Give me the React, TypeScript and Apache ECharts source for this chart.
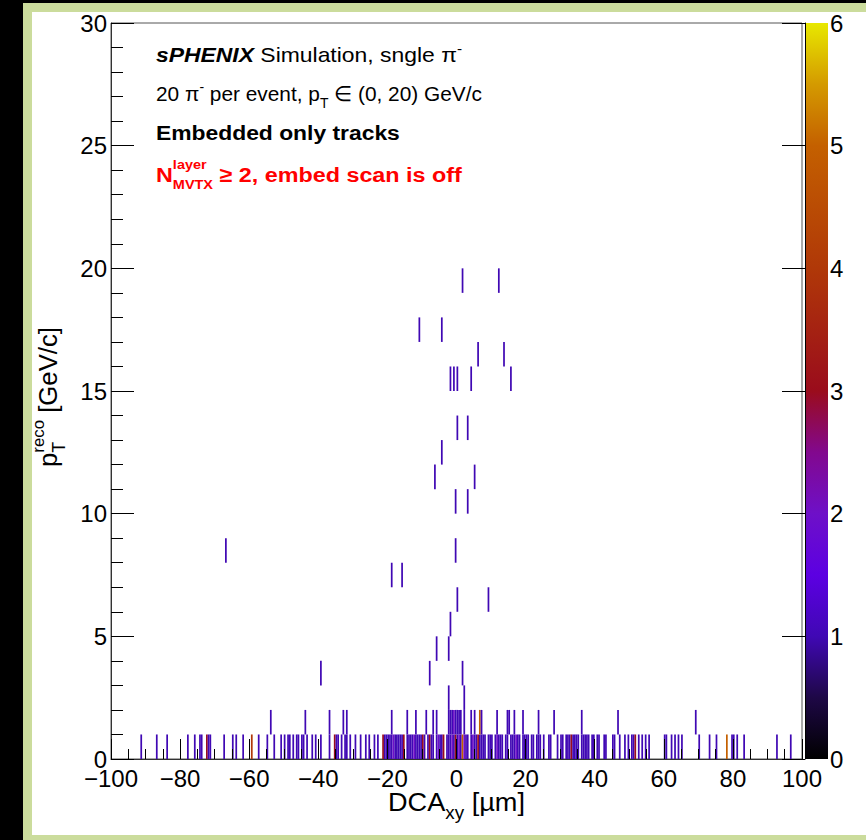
import React, { useEffect, useRef } from "react";
import * as echarts from "echarts";

// ---------- axes ----------
const X_MIN = -100;
const X_MAX = 100;
const Y_MIN = 0;
const Y_MAX = 30;
const Z_MIN = 0;
const Z_MAX = 6;
const BIN_W = 0.5; // DCA bin width [um]
const BIN_H = 1; // pT bin width [GeV/c]

// ---------- data: [DCA_xy (um), counts] ----------
const pt0to1: [number, number][] = [
  [-91.5, 1], [-86.7, 1], [-83.7, 1], [-78.0, 1], [-76.0, 1], [-74.2, 1], [-73.7, 1], [-72.3, 3],
  [-71.9, 1], [-71.3, 1], [-67.1, 1], [-65.0, 1], [-63.9, 1], [-62.0, 1], [-59.1, 4], [-57.5, 1],
  [-54.6, 1], [-52.6, 1], [-50.6, 1], [-49.7, 1], [-48.7, 1], [-48.1, 1], [-47.1, 1], [-46.3, 1],
  [-45.7, 1], [-44.9, 1], [-44.4, 1], [-43.3, 1], [-41.7, 1], [-40.6, 1], [-39.1, 1], [-37.0, 1],
  [-35.5, 3], [-34.8, 1], [-34.1, 1], [-33.1, 1], [-32.2, 1], [-31.6, 1], [-30.6, 1], [-29.3, 1],
  [-28.0, 1], [-26.4, 1], [-25.4, 1], [-23.9, 1], [-22.9, 1], [-21.5, 3],
  [-20.75, 1], [-20.25, 1], [-19.75, 1], [-19.25, 1], [-18.75, 1], [-18.25, 2], [-17.75, 1],
  [-17.25, 1], [-16.75, 1], [-16.25, 1], [-15.75, 1], [-15.25, 3], [-14.25, 1], [-13.75, 1],
  [-13.25, 1], [-12.75, 1], [-12.25, 2], [-11.75, 1], [-11.25, 1], [-10.75, 1], [-10.25, 1],
  [-9.75, 3], [-9.25, 1], [-8.25, 1], [-7.75, 3], [-7.25, 1], [-6.75, 1], [-5.75, 1], [-5.25, 2],
  [-4.75, 1], [-4.25, 1], [-3.75, 3], [-2.75, 1], [-2.25, 1], [-1.75, 1], [-1.25, 2], [-0.75, 1],
  [-0.25, 3], [0.25, 1], [0.75, 2], [1.25, 1], [1.75, 5], [2.25, 2], [2.75, 1], [3.25, 1],
  [4.25, 1], [4.75, 2], [5.25, 1], [5.75, 1], [6.25, 3], [6.75, 1], [7.25, 1], [7.75, 1],
  [8.25, 1], [9.25, 1], [9.75, 1], [10.25, 1], [11.25, 1], [11.75, 2], [12.25, 1], [12.75, 1],
  [13.25, 1], [14.25, 1], [14.75, 1], [15.75, 1], [16.25, 1], [16.75, 1], [17.25, 2], [17.75, 1],
  [18.25, 1], [19.25, 1], [19.75, 1], [20.25, 1], [20.75, 1], [21.75, 1], [22.25, 1], [23.25, 1],
  [23.75, 1], [24.25, 1], [25.25, 1], [26.75, 1], [27.25, 1], [29.25, 1], [30.25, 1], [30.75, 1],
  [31.75, 1], [32.25, 1], [32.75, 1], [33.25, 3], [33.75, 1],
  [34.2, 1], [34.7, 1], [35.4, 1], [36.1, 1], [36.6, 1], [37.1, 1], [37.6, 1], [38.1, 1],
  [39.0, 1], [39.5, 1], [40.5, 1], [41.0, 1], [42.7, 1], [43.4, 1], [45.3, 1], [45.8, 1],
  [47.2, 1], [48.7, 1], [49.6, 1], [50.6, 1], [51.3, 1], [51.8, 3], [52.5, 1], [53.5, 1],
  [54.6, 1], [55.9, 1], [60.0, 1], [60.7, 1], [62.0, 1], [63.3, 1], [64.1, 1], [65.1, 1],
  [70.1, 1], [73.3, 1], [75.4, 1], [78.4, 5], [79.7, 1], [80.3, 1], [81.3, 1], [83.4, 1],
  [92.8, 1], [96.9, 1],
];

const pt1to2: [number, number][] = [
  [-53.7, 1], [-43.9, 1], [-36.7, 1], [-32.6, 1], [-31.7, 1], [-18.9, 1], [-14.5, 1], [-11.9, 1],
  [-8.7, 1], [-6.8, 1], [-6.0, 1], [-2.25, 1], [-1.75, 1], [-1.25, 1], [-0.75, 2], [-0.25, 1],
  [0.25, 1], [0.75, 1], [1.25, 1], [2.0, 1], [4.1, 1], [5.0, 1], [6.7, 5], [7.4, 1], [11.5, 1],
  [14.7, 1], [15.4, 1], [16.8, 1], [19.2, 1], [23.6, 1], [28.2, 1], [36.4, 1], [46.9, 1], [69.2, 1],
];

// [DCA_xy (um), pT bin low edge (GeV/c), counts]
const ptAbove2: [number, number, number][] = [
  [-2.3, 2, 1], [2.2, 2, 1],
  [-39.3, 3, 1], [-7.7, 3, 1], [1.8, 3, 1],
  [-5.9, 4, 1], [-2.5, 4, 1],
  [-1.9, 5, 1],
  [0.0, 6, 1], [9.0, 6, 1],
  [-18.7, 7, 1], [-15.9, 7, 1],
  [-67.0, 8, 1], [-0.2, 8, 1],
  [-0.2, 10, 1], [3.1, 10, 1],
  [-6.5, 11, 1], [5.4, 11, 1],
  [-4.5, 12, 1],
  [0.1, 13, 1], [3.4, 13, 1],
  [-1.6, 15, 1], [-0.6, 15, 1], [0.2, 15, 1], [4.1, 15, 1], [15.5, 15, 1],
  [6.1, 16, 1], [13.5, 16, 1],
  [-10.6, 17, 1], [-4.3, 17, 1],
  [1.8, 19, 1], [12.4, 19, 1],
];

// colour palette (z value -> colour)
const paletteStops: [number, string][] = [
  [0, "#000000"],
  [0.5, "#1e0846"],
  [1, "#4008b4"],
  [1.5, "#5c00e2"],
  [2, "#6e10c8"],
  [2.5, "#82088e"],
  [3, "#9a0c1c"],
  [4, "#b03808"],
  [5, "#c46000"],
  [5.5, "#d49a00"],
  [6, "#e8e800"],
];

const FONT = '"Liberation Sans", Arial, Helvetica, sans-serif';

function hexToRgb(h: string) {
  const n = parseInt(h.slice(1), 16);
  return [(n >> 16) & 255, (n >> 8) & 255, n & 255];
}
function zColor(z: number) {
  const v = Math.max(Z_MIN, Math.min(Z_MAX, z));
  for (let i = 1; i < paletteStops.length; i++) {
    const [v1, c1] = paletteStops[i];
    const [v0, c0] = paletteStops[i - 1];
    if (v <= v1) {
      const t = (v - v0) / (v1 - v0);
      const a = hexToRgb(c0);
      const b = hexToRgb(c1);
      const r = a.map((x, k) => Math.round(x + (b[k] - x) * t));
      return `rgb(${r[0]},${r[1]},${r[2]})`;
    }
  }
  return paletteStops[paletteStops.length - 1][1];
}

let measureCtx: CanvasRenderingContext2D | null = null;
function textWidth(t: string, size: number, weight = "normal", style = "normal") {
  if (!measureCtx) measureCtx = document.createElement("canvas").getContext("2d");
  measureCtx!.font = `${style} ${weight} ${size}px ${FONT}`;
  return measureCtx!.measureText(t).width;
}

type Seg = { t: string; size: number; weight?: string; style?: string; dy?: number; color?: string };
type Piece = Seg | { stack: Seg[] };

function lineWidth(pieces: Piece[]) {
  let w = 0;
  for (const p of pieces) {
    if ("stack" in p) w += Math.max(...p.stack.map((s) => textWidth(s.t, s.size, s.weight, s.style)));
    else w += textWidth(p.t, p.size, p.weight, p.style);
  }
  return w;
}

// places pieces side by side; local baseline is y = 0; stretched to the given width
function buildLine(pieces: Piece[], x: number, y: number, color: string, targetW: number | null, extra: any = {}) {
  const children: any[] = [];
  let cx = 0;
  const mk = (s: Seg, px: number) => ({
    type: "text",
    x: px,
    y: (s.dy || 0) - 0.35 * s.size,
    style: {
      text: s.t,
      fontSize: s.size,
      fontWeight: s.weight || "normal",
      fontStyle: s.style || "normal",
      fontFamily: FONT,
      fill: s.color || color,
      verticalAlign: "middle",
      align: "left",
    },
  });
  for (const p of pieces) {
    if ("stack" in p) {
      let w = 0;
      for (const s of p.stack) {
        children.push(mk(s, cx));
        w = Math.max(w, textWidth(s.t, s.size, s.weight, s.style));
      }
      cx += w;
    } else {
      children.push(mk(p, cx));
      cx += textWidth(p.t, p.size, p.weight, p.style);
    }
  }
  const sx = targetW ? targetW / cx : 1;
  return { type: "group", x, y, scaleX: sx, children, ...extra };
}

export default function App() {
  const ref = useRef<HTMLDivElement>(null);

  useEffect(() => {
    if (!ref.current) return;
    document.body.style.margin = "0";
    const chart = echarts.init(ref.current, undefined, { renderer: "svg" });

    const cells: [number, number, number][] = [
      ...pt0to1.map(([x, c]) => [x, 0, c] as [number, number, number]),
      ...pt1to2.map(([x, c]) => [x, 1, c] as [number, number, number]),
      ...ptAbove2,
    ];

    const A = 21; // annotation font size
    const line1: Piece[] = [
      { t: "sPHENIX", size: A, weight: "bold", style: "italic" },
      { t: " Simulation, sngle \u03c0", size: A },
      { t: "-", size: 14, dy: -8 },
    ];
    const line2: Piece[] = [
      { t: "20 \u03c0", size: A },
      { t: "-", size: 14, dy: -9 },
      { t: " per event, p", size: A },
      { t: "T", size: 14, dy: 7 },
      { t: " \u2208 (0, 20) GeV/c", size: A },
    ];
    const line3: Piece[] = [{ t: "Embedded only tracks", size: A, weight: "bold" }];
    const line4: Piece[] = [
      { t: "N", size: A, weight: "bold" },
      {
        stack: [
          { t: "layer", size: 13, weight: "bold", dy: -13 },
          { t: "MVTX", size: 13, weight: "bold", dy: 7 },
        ],
      },
      { t: " \u2265 2, embed scan is off", size: A, weight: "bold" },
    ];

    const xTitle: Piece[] = [
      { t: "DCA", size: 26 },
      { t: "xy", size: 18, dy: 8 },
      { t: " [\u00b5m]", size: 26 },
    ];
    const yTitle: Piece[] = [
      { t: "p", size: 26 },
      {
        stack: [
          { t: "reco", size: 17, dy: -13 },
          { t: "T", size: 18, dy: 8 },
        ],
      },
      { t: " [GeV/c]", size: 26 },
    ];
    const Y_TITLE_LEN = 140;

    const option: any = {
      animation: false,
      backgroundColor: "#000000",
      grid: [
        { left: 111, top: 23, width: 691, height: 736, show: true, backgroundColor: "#ffffff", borderColor: "#555555", borderWidth: 1 },
        { left: 805, top: 23, width: 23, height: 736, show: false },
      ],
      xAxis: [
        {
          gridIndex: 0,
          type: "value",
          min: X_MIN,
          max: X_MAX,
          interval: 20,
          z: 5,
          axisLine: { show: true, onZero: false, lineStyle: { color: "#333333", width: 1 } },
          axisTick: { show: true, inside: true, length: 20, lineStyle: { color: "#000000", width: 1 } },
          minorTick: { show: true, splitNumber: 4, length: 10, lineStyle: { color: "#000000", width: 1 } },
          splitLine: { show: false },
          minorSplitLine: { show: false },
          axisLabel: {
            fontSize: 24,
            lineHeight: 20,
            fontFamily: FONT,
            color: "#000000",
            margin: 9,
            formatter: (v: number) => (v < 0 ? "\u2212" + Math.abs(v) : String(v)),
          },
        },
        { gridIndex: 1, type: "value", min: 0, max: 1, show: false },
      ],
      yAxis: [
        {
          gridIndex: 0,
          type: "value",
          min: Y_MIN,
          max: Y_MAX,
          interval: 5,
          z: 5,
          axisLine: { show: true, onZero: false, lineStyle: { color: "#333333", width: 1 } },
          axisTick: { show: true, inside: true, length: 23, lineStyle: { color: "#000000", width: 1 } },
          minorTick: { show: true, splitNumber: 5, length: 12, lineStyle: { color: "#000000", width: 1 } },
          splitLine: { show: false },
          minorSplitLine: { show: false },
          axisLabel: { fontSize: 24, lineHeight: 18, fontFamily: FONT, color: "#000000", margin: 4 },
        },
        {
          gridIndex: 1,
          type: "value",
          min: Z_MIN,
          max: Z_MAX,
          interval: 1,
          position: "right",
          z: 5,
          axisLine: { show: true, lineStyle: { color: "#000000", width: 1 } },
          axisTick: { show: true, inside: true, length: 23, lineStyle: { color: "#000000", width: 1 } },
          splitLine: { show: false },
          axisLabel: { fontSize: 24, lineHeight: 20, fontFamily: FONT, color: "#000000", margin: 2 },
        },
      ],
      series: [
        {
          type: "custom",
          xAxisIndex: 0,
          yAxisIndex: 0,
          z: 2,
          clip: true,
          data: cells,
          renderItem: (params: any, api: any) => {
            const x = api.value(0);
            const y = api.value(1);
            const c = api.value(2);
            const x0 = Math.floor((x - X_MIN) / BIN_W + 1e-9) * BIN_W + X_MIN;
            const p0 = api.coord([x0, y]);
            const p1 = api.coord([x0 + BIN_W, y + BIN_H]);
            return {
              type: "rect",
              shape: { x: p0[0], y: p1[1], width: p1[0] - p0[0], height: p0[1] - p1[1] },
              style: { fill: zColor(c), stroke: null },
            };
          },
        },
        {
          type: "custom",
          xAxisIndex: 1,
          yAxisIndex: 1,
          z: 1,
          data: [[0, 0]],
          renderItem: (params: any, api: any) => {
            const p0 = api.coord([0, Z_MIN]);
            const p1 = api.coord([1, Z_MAX]);
            return {
              type: "rect",
              shape: { x: p0[0], y: p1[1], width: p1[0] - p0[0], height: p0[1] - p1[1] },
              style: {
                fill: new echarts.graphic.LinearGradient(
                  0, 1, 0, 0,
                  paletteStops.map(([v, col]) => ({ offset: (v - Z_MIN) / (Z_MAX - Z_MIN), color: col }))
                ),
              },
            };
          },
        },
      ],
      graphic: [
        { type: "rect", z: -100, silent: true, shape: { x: 23, y: 3, width: 843, height: 837 }, style: { fill: "#cbdc9c" } },
        { type: "rect", z: -99, silent: true, shape: { x: 32, y: 12, width: 834, height: 823 }, style: { fill: "#ffffff" } },
        buildLine(line1, 156, 62, "#000000", 306, { z: 10 }),
        buildLine(line2, 156, 101, "#000000", 326, { z: 10 }),
        buildLine(line3, 156, 140, "#000000", 244, { z: 10 }),
        buildLine(line4, 156, 182, "#ff0000", 306, { z: 10 }),
        buildLine(xTitle, 388, 811, "#000000", 137, { z: 10 }),
        {
          type: "group",
          x: 57,
          y: 397,
          rotation: Math.PI / 2,
          z: 10,
          children: [buildLine(yTitle, -Y_TITLE_LEN / 2, 0, "#000000", Y_TITLE_LEN)],
        },
      ],
    };

    chart.setOption(option);
    return () => chart.dispose();
  }, []);

  return <div ref={ref} style={{ position: "fixed", left: 0, top: 0, width: 866, height: 840 }} />;
}
